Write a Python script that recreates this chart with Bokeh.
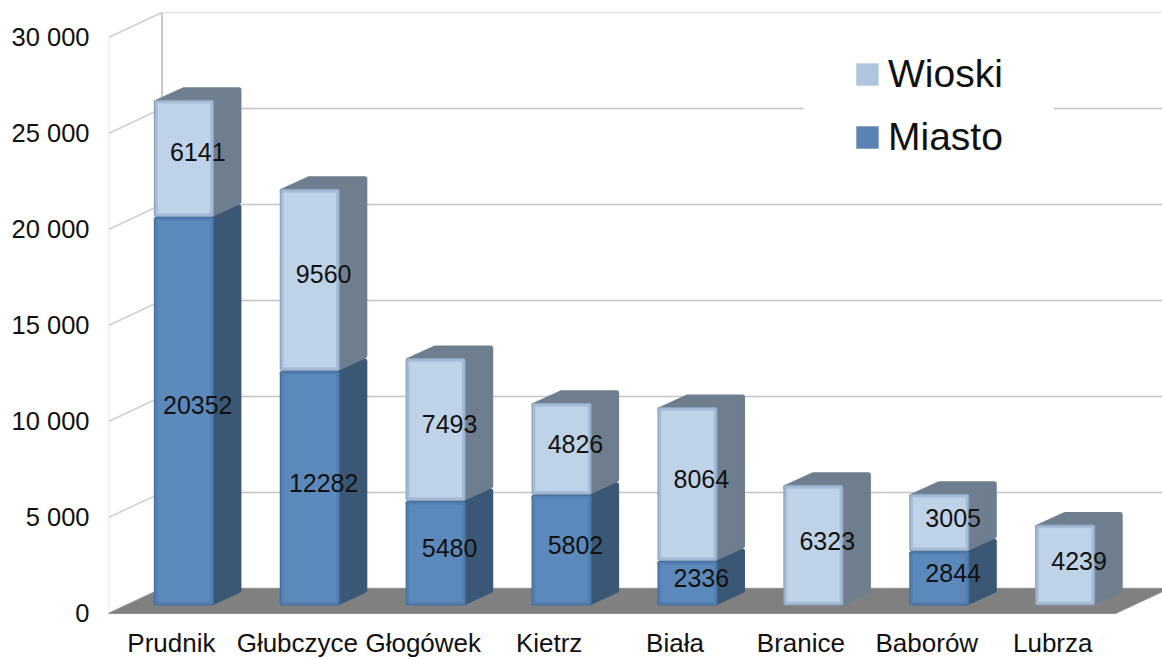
from bokeh.plotting import figure
from bokeh.models import (ColumnDataSource, Range1d, FixedTicker, Legend, LegendItem, BoxAnnotation)
from bokeh.core.properties import value
from bokeh.embed import file_html
from bokeh.resources import INLINE

categories = ["Prudnik", "Głubczyce", "Głogówek", "Kietrz", "Biała", "Branice", "Baborów", "Lubrza"]
miasto = [20352, 12282, 5480, 5802, 2336, 0, 2844, 0]
wioski = [6141, 9560, 7493, 4826, 8064, 6323, 3005, 4239]
y_ticks = [0, 5000, 10000, 15000, 20000, 25000, 30000]
y_labels = ["0", "5 000", "10 000", "15 000", "20 000", "25 000", "30 000"]

FONT = "Liberation Sans"
WALL_DX, WALL_DY = 0.425, 1302
BAR_L, BAR_R = -0.14, 0.338
BAR_BASE = 417
BAR_SCALE = 0.994  # bars stand mid-depth, so they appear slightly shorter
SIDE_DX, SIDE_DY = 0.218, 651
INSET_X, INSET_Y = 0.02, 130
X0, X1 = -0.5, 7.5
LABEL_Y = -1562

p = figure(width=1162, height=659, output_backend="svg", toolbar_location=None,
           x_range=Range1d(-0.5, 7.872), y_range=Range1d(-2396, 31510),
           x_axis_location=None, margin=(0, 0, 0, 0),
           min_border_left=108, min_border_right=0, min_border_top=8, min_border_bottom=0,
           outline_line_color=None, background_fill_color="white", border_fill_color="white")
p.grid.visible = False

ax = p.yaxis[0]
ax.ticker = FixedTicker(ticks=y_ticks)
ax.major_label_overrides = dict(zip(y_ticks, y_labels))
ax.axis_line_color = None
ax.major_tick_line_color = None
ax.minor_tick_line_color = None
ax.major_tick_out = 0
ax.major_tick_in = 0
ax.major_label_text_font = FONT
ax.major_label_text_font_size = "25.5px"
ax.major_label_text_color = "#111111"
ax.major_label_standoff = 19

# walls
p.line([X0, X0], [0, 30000], line_color="#e2e2e2", line_width=1.5)
p.line([X0 + WALL_DX] * 2, [WALL_DY, 30000 + WALL_DY], line_color="#b8b8b8", line_width=1.5)
p.multi_line([[X0, X0 + WALL_DX] for _ in y_ticks], [[t, t + WALL_DY] for t in y_ticks],
             line_color="#cfcfcf", line_width=1.5)
p.multi_line([[X0 + WALL_DX, 7.872] for _ in y_ticks], [[t + WALL_DY] * 2 for t in y_ticks],
             line_color=["#c4c4c4" if t < 30000 else "#e4e4e4" for t in y_ticks], line_width=1.5)
# floor
p.patch([X0, X0 + WALL_DX, X1 + WALL_DX, X1], [0, WALL_DY, WALL_DY, 0], fill_color="#808080", line_color="#909090", line_width=1)


def draw(bottoms, heights, face, edge, mid, dark):
    keep = [i for i, h in enumerate(heights) if h > 0]
    fx, fy, sx, sy = [], [], [], []
    for i in keep:
        l, r = i + BAR_L + INSET_X, i + BAR_R - INSET_X
        b = bottoms[i] * BAR_SCALE + BAR_BASE + INSET_Y
        t = (bottoms[i] + heights[i]) * BAR_SCALE + BAR_BASE - INSET_Y
        fx.append([l, r, r, l]); fy.append([b, b, t, t])
        ox, oy = SIDE_DX, SIDE_DY
        sx.append([r, r + ox, r + ox, l + ox, l]); sy.append([b, b + oy, t + oy, t + oy, t])
    p.patches(sx, sy, fill_color=dark, line_color=dark, line_width=5, line_join="round")
    p.patches(fx, fy, fill_color=face, line_color=edge, line_width=5, line_join="round")
    p.patches(fx, fy, fill_color=face, line_color=mid, line_width=2.5, line_join="round")


zeros = [0] * len(miasto)
draw(zeros, miasto, "#5c89bb", "#466f9f", "#5280b2", "#3a5876")
draw(miasto, wioski, "#bed2e8", "#8ba2bd", "#a6bcd6", "#6f7e8e")

# data labels
lx, ly, lt = [], [], []
for i, (m, w) in enumerate(zip(miasto, wioski)):
    if m:
        lx.append(i + 0.209); ly.append(BAR_BASE + m / 2 + SIDE_DY / 2 - 70); lt.append(str(m))
    lx.append(i + 0.209); ly.append(BAR_BASE + m + w / 2 + SIDE_DY / 2 - 115); lt.append(str(w))
p.text(x="x", y="y", text="t", source=ColumnDataSource(dict(x=lx, y=ly, t=lt)),
       text_font=value(FONT), text_font_size="25px", text_color="#111111",
       text_align="center", text_baseline="middle")

# category labels
p.text(x=list(range(len(categories))), y=[LABEL_Y] * len(categories), text=categories,
       text_font=value(FONT), text_font_size="26px", text_color="#111111",
       text_align="center", text_baseline="middle")

# gap in the gridline behind the legend
p.add_layout(BoxAnnotation(left=5.02, right=7.01, bottom=25700, top=26900,
                           fill_color="white", fill_alpha=1, line_alpha=0))

nan = float("nan")
leg_w = p.quad(left=[nan], right=[nan], top=[nan], bottom=[nan], fill_color="#b0c6df", line_alpha=0)
leg_m = p.quad(left=[nan], right=[nan], top=[nan], bottom=[nan], fill_color="#5a83b5", line_alpha=0)
legend = Legend(items=[LegendItem(label="Wioski", renderers=[leg_w], index=0),
                       LegendItem(label="Miasto", renderers=[leg_m], index=0)],
                location=(745, 500), padding=10, margin=0, spacing=19, label_standoff=7,
                glyph_width=28, glyph_height=28, label_text_font=FONT, label_text_font_size="39px",
                label_text_color="#111111", background_fill_alpha=0, border_line_color=None)
p.add_layout(legend, "center")

open("out.html", "w").write(file_html(p, INLINE))
